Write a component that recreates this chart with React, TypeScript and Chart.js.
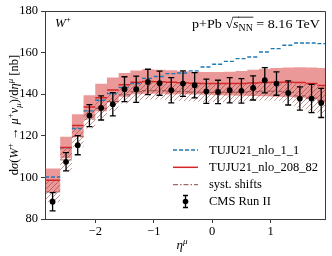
import React, { useEffect, useRef } from 'react';
import { Chart, registerables } from 'chart.js';
Chart.register(...registerables);

const binEdges = [-2.86, -2.6, -2.4, -2.2, -2.0, -1.8, -1.6, -1.4, -1.2, -1.0, -0.8, -0.6, -0.4, -0.2, 0.0, 0.2, 0.4, 0.6, 0.8, 1.0, 1.2, 1.4, 1.6, 1.8, 1.93];
const binCenters = [-2.73, -2.5, -2.3, -2.1, -1.9, -1.7, -1.5, -1.3, -1.1, -0.9, -0.7, -0.5, -0.3, -0.1, 0.1, 0.3, 0.5, 0.7, 0.9, 1.1, 1.3, 1.5, 1.7, 1.865];

const nlo11 = [100.2, 114.2, 123.5, 132.0, 137.1, 140.3, 143.2, 145.1, 147.6, 148.5, 149.9, 150.2, 151.2, 153.1, 154.4, 155.8, 157.1, 157.9, 160.3, 161.9, 163.5, 164.6, 164.6, 164.3];
const nlo208 = [98.6, 114.4, 124.9, 133.9, 138.3, 142.0, 144.5, 145.7, 146.1, 146.0, 145.7, 145.5, 145.3, 145.2, 145.1, 145.1, 145.2, 145.4, 145.6, 145.7, 145.7, 145.6, 145.2, 144.2];
const nlo208Hi = [104.3, 119.5, 130.4, 139.5, 145.0, 148.0, 150.2, 151.4, 152.0, 151.8, 151.5, 151.0, 150.8, 150.7, 150.7, 150.8, 151.2, 151.7, 152.2, 152.6, 152.8, 152.9, 152.8, 152.6];
const nlo208Lo = [92.9, 109.2, 119.4, 128.3, 131.8, 136.0, 138.8, 140.0, 140.2, 140.2, 139.9, 140.0, 139.8, 139.7, 139.5, 139.4, 139.2, 139.1, 139.0, 138.8, 138.6, 138.3, 137.6, 135.8];
const shifted = [93.0, 108.4, 119.5, 128.0, 133.2, 136.5, 139.7, 141.2, 141.7, 141.7, 141.5, 141.2, 141.0, 140.9, 140.9, 140.9, 141.0, 141.2, 141.5, 141.4, 140.9, 139.2, 138.2, 137.1];
const shiftedHi = [98.5, 113.8, 124.5, 132.5, 138.0, 141.0, 144.0, 145.5, 146.0, 146.0, 146.0, 145.7, 145.5, 145.5, 145.5, 145.5, 145.6, 145.8, 146.0, 146.0, 145.8, 145.0, 145.0, 143.5];
const shiftedLo = [88.0, 103.0, 114.5, 123.5, 128.5, 132.0, 135.5, 137.0, 137.5, 137.5, 137.0, 136.7, 136.5, 136.3, 136.3, 136.3, 136.5, 136.7, 137.0, 136.8, 136.0, 133.5, 131.5, 130.7];
const cmsData = [88.3, 107.5, 115.5, 129.7, 133.4, 135.2, 142.4, 142.4, 145.9, 145.3, 141.9, 145.1, 144.3, 141.4, 141.1, 141.9, 141.6, 143.0, 146.7, 145.1, 140.6, 137.9, 137.9, 135.8];
const cmsErr = [4.4, 4.4, 4.6, 5.3, 5.8, 5.6, 6.0, 6.3, 6.1, 5.8, 6.1, 6.1, 6.1, 5.8, 5.6, 6.1, 5.9, 5.8, 6.1, 5.6, 5.8, 5.6, 6.8, 7.0];

const xTicks = [-2, -1, 0, 1];
const yTicks = [80, 100, 120, 140, 160, 180];
const legendLabels = ['TUJU21_nlo_1_1', 'TUJU21_nlo_208_82', 'syst. shifts', 'CMS Run II'];

const FONT = '"Liberation Serif", serif';
const AX = '#3a3a3a';
const BLUE = '#1f77b4';
const RED = '#d62728';
const BROWN = '#7d3b32';

// band outline: corner points of each bin (left edge, right edge)
function corners(vals: number[]) {
  const out: { x: number; y: number }[] = [];
  vals.forEach((v, i) => { out.push({ x: binEdges[i], y: v }, { x: binEdges[i + 1], y: v }); });
  return out;
}
// separate horizontal segment per bin
function segs(vals: number[]) {
  const out: any[] = [];
  vals.forEach((v, i) => {
    out.push({ x: binEdges[i], y: v }, { x: binEdges[i + 1], y: v }, { x: binEdges[i + 1], y: null });
  });
  return out;
}

type Piece = { t: string; it?: boolean; pos?: 'sup' | 'sub'; ov?: boolean };
function pieceFont(p: Piece, size: number) {
  const s = p.pos ? size * 0.7 : size;
  return `${p.it ? 'italic ' : ''}${s}px ${FONT}`;
}
function richWidth(ctx: CanvasRenderingContext2D, pieces: Piece[], size: number) {
  let w = 0;
  for (const p of pieces) { ctx.font = pieceFont(p, size); w += ctx.measureText(p.t).width; }
  return w;
}
function drawRich(ctx: CanvasRenderingContext2D, pieces: Piece[], x: number, y: number, size: number) {
  let cx = x;
  ctx.textBaseline = 'alphabetic';
  ctx.textAlign = 'left';
  for (const p of pieces) {
    ctx.font = pieceFont(p, size);
    const dy = p.pos === 'sup' ? -size * 0.4 : p.pos === 'sub' ? size * 0.22 : 0;
    ctx.fillText(p.t, cx, y + dy);
    const w = ctx.measureText(p.t).width;
    if (p.ov) {
      ctx.save();
      ctx.strokeStyle = '#000';
      ctx.lineWidth = 0.8;
      ctx.beginPath();
      ctx.moveTo(cx - 0.5, y - size * 0.8);
      ctx.lineTo(cx + w + 0.5, y - size * 0.8);
      ctx.stroke();
      ctx.restore();
    }
    cx += w;
  }
  return cx;
}

function makeHatch(target: CanvasRenderingContext2D) {
  const c = document.createElement('canvas');
  const n = 5;
  c.width = n; c.height = n;
  const g = c.getContext('2d')!;
  g.strokeStyle = 'rgba(140,55,45,0.62)';
  g.lineWidth = 0.85;
  g.beginPath();
  g.moveTo(0, n); g.lineTo(n, 0);
  g.moveTo(-1, 1); g.lineTo(1, -1);
  g.moveTo(n - 1, n + 1); g.lineTo(n + 1, n - 1);
  g.stroke();
  return target.createPattern(c, 'repeat');
}

const decorPlugin = {
  id: 'decor',
  beforeDatasetDraw(chart: any, args: any) {
    if (args.index !== 7) return;
    const { ctx, scales } = chart;
    const xs = scales.x, ys = scales.y;
    ctx.save();
    ctx.strokeStyle = '#000';
    ctx.lineWidth = 1.3;
    cmsData.forEach((v, i) => {
      const x = xs.getPixelForValue(binCenters[i]);
      const y1 = ys.getPixelForValue(v + cmsErr[i]);
      const y2 = ys.getPixelForValue(v - cmsErr[i]);
      ctx.beginPath();
      ctx.moveTo(x, y1); ctx.lineTo(x, y2);
      ctx.moveTo(x - 3, y1); ctx.lineTo(x + 3, y1);
      ctx.moveTo(x - 3, y2); ctx.lineTo(x + 3, y2);
      ctx.stroke();
    });
    ctx.restore();
  },
  afterDraw(chart: any) {
    const { ctx, chartArea: a } = chart;
    ctx.save();
    ctx.strokeStyle = AX;
    ctx.lineWidth = 1;
    ctx.beginPath();
    ctx.moveTo(Math.round(a.left), Math.round(a.top) + 0.5);
    ctx.lineTo(Math.round(a.right) + 0.5, Math.round(a.top) + 0.5);
    ctx.lineTo(Math.round(a.right) + 0.5, Math.round(a.bottom));
    ctx.stroke();

    ctx.fillStyle = '#000';
    drawRich(ctx, [{ t: 'W', it: true }, { t: '+', pos: 'sup' }], 55, 27, 13);

    const tp: Piece[] = [{ t: 'p+Pb ' }, { t: '√' }, { t: 's', it: true, ov: true }, { t: 'NN', pos: 'sub', ov: true }, { t: ' = 8.16 TeV' }];
    const tsz = 13.5;
    const tw = richWidth(ctx, tp, tsz);
    const target = 128;
    ctx.save();
    ctx.translate(320 - target, 28);
    ctx.scale(target / tw, 1);
    drawRich(ctx, tp, 0, 0, tsz);
    ctx.restore();

    const xt: Piece[] = [{ t: 'η', it: true }, { t: 'μ', it: true, pos: 'sup' }];
    const xw = richWidth(ctx, xt, 13);
    drawRich(ctx, xt, (a.left + a.right) / 2 - 3 - xw / 2, 249, 13);

    const yt: Piece[] = [
      { t: 'd' }, { t: 'σ', it: true }, { t: '(' }, { t: 'W', it: true }, { t: '+', pos: 'sup' },
      { t: ' → ' }, { t: 'μ', it: true }, { t: '+', pos: 'sup' }, { t: 'ν', it: true }, { t: 'μ', it: true, pos: 'sub' },
      { t: ')/d' }, { t: 'η', it: true }, { t: 'μ', it: true, pos: 'sup' }, { t: ' [nb]' },
    ];
    const ysz = 12.5;
    const yw = richWidth(ctx, yt, ysz);
    ctx.save();
    ctx.translate(18, (a.top + a.bottom) / 2);
    ctx.rotate(-Math.PI / 2);
    drawRich(ctx, yt, -yw / 2, 0, ysz);
    ctx.restore();

    const hx0 = 173, hx1 = 198, tx = 209;
    const rows = [150, 167.3, 184.6, 201.5];
    ctx.lineWidth = 1.4;
    ctx.strokeStyle = BLUE;
    ctx.setLineDash([4, 2]);
    ctx.beginPath(); ctx.moveTo(hx0, rows[0]); ctx.lineTo(hx1, rows[0]); ctx.stroke();
    ctx.setLineDash([]);
    ctx.strokeStyle = RED;
    ctx.lineWidth = 1.5;
    ctx.beginPath(); ctx.moveTo(hx0, rows[1]); ctx.lineTo(hx1, rows[1]); ctx.stroke();
    ctx.strokeStyle = BROWN;
    ctx.globalAlpha = 0.75;
    ctx.lineWidth = 1.4;
    ctx.setLineDash([5, 2, 1.5, 2]);
    ctx.beginPath(); ctx.moveTo(hx0, rows[2]); ctx.lineTo(hx1, rows[2]); ctx.stroke();
    ctx.setLineDash([]);
    ctx.globalAlpha = 1;
    const ex = (hx0 + hx1) / 2;
    ctx.strokeStyle = '#000';
    ctx.lineWidth = 1.3;
    ctx.beginPath();
    ctx.moveTo(ex, rows[3] - 6); ctx.lineTo(ex, rows[3] + 6);
    ctx.moveTo(ex - 2.5, rows[3] - 6); ctx.lineTo(ex + 2.5, rows[3] - 6);
    ctx.moveTo(ex - 2.5, rows[3] + 6); ctx.lineTo(ex + 2.5, rows[3] + 6);
    ctx.stroke();
    ctx.beginPath(); ctx.arc(ex, rows[3], 2.8, 0, Math.PI * 2); ctx.fill();

    ctx.font = `12.5px ${FONT}`;
    ctx.textBaseline = 'middle';
    ctx.textAlign = 'left';
    legendLabels.forEach((l, i) => ctx.fillText(l, tx, rows[i] + 0.5));
    ctx.restore();
  },
};

export default function App() {
  const ref = useRef<HTMLCanvasElement>(null);
  useEffect(() => {
    const canvas = ref.current!;
    const pattern = makeHatch(canvas.getContext('2d')!);
    const lineBase = { pointRadius: 0, pointHoverRadius: 0, tension: 0, spanGaps: false };
    const chart = new Chart(canvas, {
      type: 'line',
      data: {
        datasets: [
          { ...lineBase, label: 'bandHi', data: corners(nlo208Hi), borderWidth: 0, borderColor: 'rgba(0,0,0,0)', fill: '+1', backgroundColor: 'rgba(214,39,40,0.48)', order: 10 },
          { ...lineBase, label: 'bandLo', data: corners(nlo208Lo), borderWidth: 0, borderColor: 'rgba(0,0,0,0)', fill: false, order: 10 },
          { ...lineBase, label: 'hatchHi', data: corners(shiftedHi), borderWidth: 0, borderColor: 'rgba(0,0,0,0)', fill: '+1', backgroundColor: pattern, order: 9 },
          { ...lineBase, label: 'hatchLo', data: corners(shiftedLo), borderWidth: 0, borderColor: 'rgba(0,0,0,0)', fill: false, order: 9 },
          { ...lineBase, label: 'TUJU21_nlo_1_1', data: segs(nlo11), borderColor: BLUE, borderWidth: 1.4, borderDash: [4, 2], fill: false, order: 5 },
          { ...lineBase, label: 'TUJU21_nlo_208_82', data: segs(nlo208), borderColor: RED, borderWidth: 1.5, fill: false, order: 4 },
          { ...lineBase, label: 'syst. shifts', data: segs(shifted), borderColor: 'rgba(125,59,50,0.7)', borderWidth: 1, borderDash: [4, 1.5, 1, 1.5], fill: false, order: 3 },
          { type: 'scatter', label: 'CMS Run II', data: binCenters.map((x, i) => ({ x, y: cmsData[i] })), pointRadius: 2.9, pointBackgroundColor: '#000', pointBorderColor: '#000', pointBorderWidth: 0, order: 1 } as any,
        ],
      },
      options: {
        animation: false,
        responsive: false,
        events: [],
        layout: { padding: { top: 11, right: 7, left: 0, bottom: 0 } },
        plugins: { legend: { display: false }, tooltip: { enabled: false } },
        scales: {
          x: {
            type: 'linear', min: -2.86, max: 1.93,
            afterBuildTicks: (s: any) => { s.ticks = xTicks.map((v) => ({ value: v })); },
            afterFit: (s: any) => { s.height = 37; },
            grid: { display: true, drawOnChartArea: false, drawTicks: true, tickLength: 4, color: AX, lineWidth: 1 },
            border: { display: true, color: AX, width: 1 },
            ticks: { font: { family: FONT, size: 12.5 }, color: '#000', padding: 1, maxRotation: 0, callback: (v: any) => (v < 0 ? '−' + Math.abs(v) : String(v)) },
          },
          y: {
            type: 'linear', min: 80, max: 180,
            afterBuildTicks: (s: any) => { s.ticks = yTicks.map((v) => ({ value: v })); },
            afterFit: (s: any) => { s.width = 45; },
            grid: { display: true, drawOnChartArea: false, drawTicks: true, tickLength: 4, color: AX, lineWidth: 1 },
            border: { display: true, color: AX, width: 1 },
            ticks: { font: { family: FONT, size: 12.5 }, color: '#000', padding: 3 },
          },
        },
      } as any,
      plugins: [decorPlugin],
    });
    return () => chart.destroy();
  }, []);
  return <canvas ref={ref} width={332} height={256} style={{ position: 'absolute', left: 0, top: 0, display: 'block' }} />;
}
